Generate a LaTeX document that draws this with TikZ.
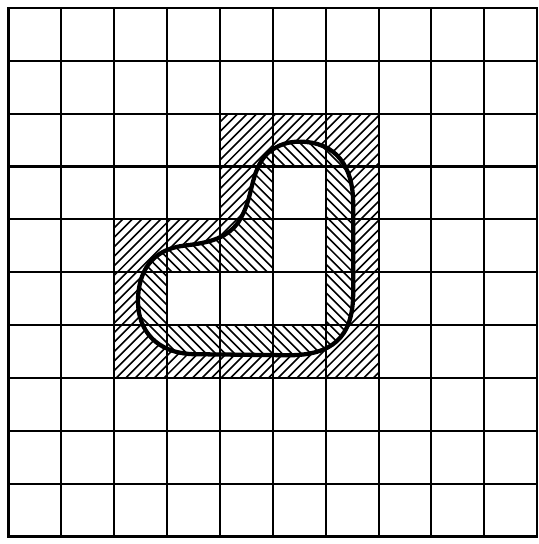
\documentclass[tikz,border=0pt]{standalone}
\begin{document}
\begin{tikzpicture}[
  gridline/.style={line width=1.1pt},
  hatchline/.style={line width=0.85pt},
  curveline/.style={line width=2.3pt},
]
\useasboundingbox (-0.16,-0.14) rectangle (10.02,10.15);
\def\outerpoly{(4,8) -- (7,8) -- (7,3) -- (2,3) -- (2,6) -- (4,6) -- cycle}
\def\innerpoly{(5,7) -- (6,7) -- (6,4) -- (3,4) -- (3,5) -- (5,5) -- cycle}
\def\heart{(5.5,7.47)
  .. controls (6.2,7.47) and (6.52,7.0) .. (6.52,6.3)
  -- (6.52,4.6)
  .. controls (6.52,3.75) and (6.1,3.43) .. (5.3,3.43)
  -- (3.5,3.45)
  .. controls (2.8,3.47) and (2.45,3.9) .. (2.45,4.45)
  .. controls (2.45,5.0) and (2.7,5.42) .. (3.3,5.5)
  .. controls (3.7,5.55) and (4.1,5.6) .. (4.35,5.95)
  .. controls (4.65,6.4) and (4.55,6.9) .. (4.9,7.25)
  .. controls (5.1,7.42) and (5.3,7.47) .. (5.5,7.47) -- cycle}
% outer "/" hatching
\begin{scope}
  \clip \outerpoly;
  \foreach \i in {-6,-5.82,...,6}
    \draw[hatchline] (\i,0) -- (\i+10,10);
\end{scope}
\fill[white] \heart;
% inner "\" hatching
\begin{scope}
  \clip \heart;
  \foreach \i in {0,0.18,...,16}
    \draw[hatchline] (\i,0) -- (\i-10,10);
\end{scope}
\fill[white] \innerpoly;
% grid
\foreach \k in {0,...,10} {
  \draw[gridline] (\k,0) -- (\k,10);
  \draw[gridline] (0,\k) -- (10,\k);
}
\draw[line width=1.4pt] (0,0) rectangle (10,10);
\draw[curveline] \heart;
\end{tikzpicture}
\end{document}
